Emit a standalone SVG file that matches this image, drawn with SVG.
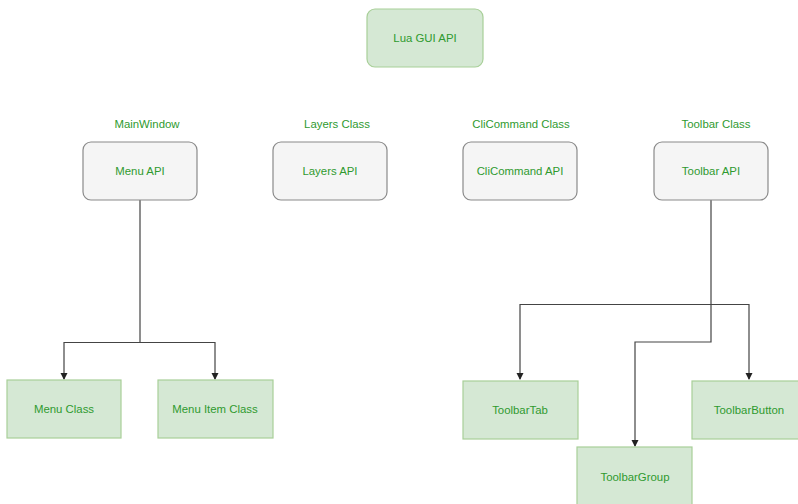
<svg xmlns="http://www.w3.org/2000/svg" width="798" height="504" viewBox="0 0 798 504">
<style>
text{font-family:"Liberation Sans",Arial,sans-serif;font-size:11.4px;fill:#2f9a2f;text-anchor:middle;dominant-baseline:central}
.api{fill:#f5f5f5;stroke:#8a8a8a;stroke-width:1.2}
.cls{fill:#d5e8d4;stroke:#a8cf98;stroke-width:1.2}
.root{fill:#d5e8d4;stroke:#a8cf98;stroke-width:1.2}
.edge{fill:none;stroke:#444;stroke-width:1.2}
</style>
<defs>
<marker id="arr" markerWidth="8" markerHeight="8" refX="6" refY="4" orient="auto" markerUnits="userSpaceOnUse">
<path d="M0,0.5 L7,4 L0,7.5 Z" fill="#222"/>
</marker>
</defs>
<rect width="798" height="504" fill="#fff"/>
<g id="connectors">
<path class="edge" d="M140,200 V342.5 H64 V379" marker-end="url(#arr)"/>
<path class="edge" d="M140,342.5 H215 V379" marker-end="url(#arr)"/>
<path class="edge" d="M711,200 V304.5 H520 V379" marker-end="url(#arr)"/>
<path class="edge" d="M711,304.5 H749 V379" marker-end="url(#arr)"/>
<path class="edge" d="M711,304.5 V342 H635 V446" marker-end="url(#arr)"/>
</g>
<g id="lua-gui-api"><rect class="root" x="367" y="9" width="116" height="58" rx="8"/><text x="425" y="38">Lua GUI API</text></g>
<g id="label-mainwindow"><text x="147" y="124">MainWindow</text></g>
<g id="label-layers"><text x="337" y="124">Layers Class</text></g>
<g id="label-clicommand"><text x="521" y="124">CliCommand Class</text></g>
<g id="label-toolbar"><text x="716" y="124">Toolbar Class</text></g>
<g id="menu-api"><rect class="api" x="83" y="142" width="114" height="58" rx="8"/><text x="140" y="171">Menu API</text></g>
<g id="layers-api"><rect class="api" x="273" y="142" width="114" height="58" rx="8"/><text x="330" y="171">Layers API</text></g>
<g id="clicommand-api"><rect class="api" x="463" y="142" width="114" height="58" rx="8"/><text x="520" y="171">CliCommand API</text></g>
<g id="toolbar-api"><rect class="api" x="654" y="142" width="114" height="58" rx="8"/><text x="711" y="171">Toolbar API</text></g>
<g id="menu-class"><rect class="cls" x="7" y="380" width="114" height="58"/><text x="64" y="409">Menu Class</text></g>
<g id="menu-item-class"><rect class="cls" x="158" y="380" width="115" height="58"/><text x="215" y="409">Menu Item Class</text></g>
<g id="toolbartab"><rect class="cls" x="463" y="381" width="115" height="58"/><text x="520" y="410">ToolbarTab</text></g>
<g id="toolbarbutton"><rect class="cls" x="692" y="381" width="114" height="58"/><text x="749" y="410">ToolbarButton</text></g>
<g id="toolbargroup"><rect class="cls" x="577" y="447" width="115" height="58"/><text x="635" y="477">ToolbarGroup</text></g>
</svg>
